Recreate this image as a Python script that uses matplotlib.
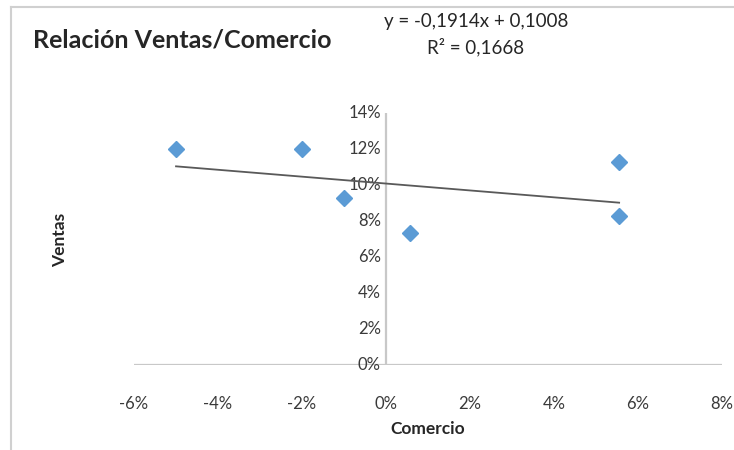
import matplotlib
matplotlib.use("Agg")
import matplotlib.pyplot as plt
from matplotlib.lines import Line2D
import numpy as np

# Data: growth of commerce vs. sales
comercio = [-0.050, -0.020, -0.010, 0.0057, 0.0555, 0.0555]
ventas = [0.120, 0.120, 0.093, 0.0733, 0.1128, 0.0828]

# Linear trend as stated in the equation label
slope = -0.1914
intercept = 0.1008
r2 = 0.1668

x_ticks = [-0.06, -0.04, -0.02, 0.0, 0.02, 0.04, 0.06, 0.08]
y_ticks = [0.0, 0.02, 0.04, 0.06, 0.08, 0.10, 0.12, 0.14]

FONT = ["Lato", "DejaVu Sans"]
plt.rcParams["font.family"] = FONT

fig = plt.figure(figsize=(7.34, 4.5), dpi=100)
ax = fig.add_axes([0.1826, 0.1889, 0.8011, 0.56])

ax.set_xlim(-0.06, 0.08)
ax.set_ylim(0.0, 0.14)

for s in ax.spines.values():
    s.set_visible(False)
axis_color = "#c8c8c8"
ax.axhline(0, color=axis_color, lw=1.6, zorder=1)
ax.axvline(0, color=axis_color, lw=1.6, zorder=1)

tick_color = "#3a3a3a"
ax.set_xticks(x_ticks)
ax.set_yticks(y_ticks)
ax.set_xticklabels([f"{round(v*100):d}%" for v in x_ticks])
ax.set_yticklabels([])
ax.tick_params(axis="both", length=0, labelsize=12, colors=tick_color)
ax.tick_params(axis="x", pad=22)

# y tick labels sit next to the vertical axis at x = 0
for v in y_ticks:
    ax.text(-0.0012, v, f"{round(v*100):d}%", ha="right", va="center",
            fontsize=12, color=tick_color, zorder=2)

# trend line over the data span
xt = np.array([min(comercio), max(comercio)])
ax.plot(xt, slope * xt + intercept, color="#595959", lw=1.3, zorder=3)

ax.plot(comercio, ventas, linestyle="none", marker="D", ms=8,
        color="#5b9bd5", markeredgecolor="#5b9bd5", zorder=4)

ax.set_xlabel("Comercio", fontsize=12.5, fontweight="bold", color="#262626", labelpad=7)
fig.text(60 / 734, 1 - 240 / 450, "Ventas", rotation=90, ha="center", va="center",
         fontsize=12.5, fontweight="bold", color="#262626")

fig.text(33 / 734, 1 - 40 / 450, "Relación Ventas/Comercio", ha="left", va="center",
         fontsize=18, fontweight="bold", color="#262626")
fig.text(476 / 734, 1 - 21 / 450, f"y = {slope:.4f}x + {intercept:.4f}".replace(".", ","),
         ha="center", va="center", fontsize=13.5, color="#262626")
fig.text(476 / 734, 1 - 47 / 450, f"R² = {r2:.4f}".replace(".", ","),
         ha="center", va="center", fontsize=13.5, color="#262626")

# chart area border (top and left edges)
border = "#d0d0d0"
fig.add_artist(Line2D([10.5 / 734, 10.5 / 734], [0, 1 - 7 / 450],
                      transform=fig.transFigure, color=border, lw=1.5))
fig.add_artist(Line2D([10.5 / 734, 1], [1 - 7 / 450, 1 - 7 / 450],
                      transform=fig.transFigure, color=border, lw=1.5))

fig.savefig("out.png", dpi=100, facecolor="white")
